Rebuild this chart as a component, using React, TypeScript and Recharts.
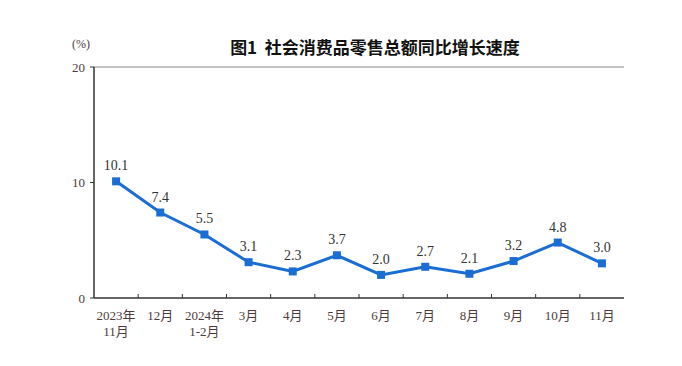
import { LineChart, Line, XAxis, YAxis, ReferenceLine, LabelList } from 'recharts';

const months = ['2023年\n11月', '12月', '2024年\n1-2月', '3月', '4月', '5月', '6月', '7月', '8月', '9月', '10月', '11月'];
const growth = [10.1, 7.4, 5.5, 3.1, 2.3, 3.7, 2.0, 2.7, 2.1, 3.2, 4.8, 3.0];
const yTicks = [0, 10, 20];

const data = months.map((m, i) => ({ month: m, value: growth[i] }));

const W = 682;
const H = 366;
const PLOT_LEFT = 94;
const PLOT_RIGHT = 58;
const BAND = (W - PLOT_LEFT - PLOT_RIGHT) / months.length;
const SERIF = '"Liberation Serif", "Noto Sans CJK SC", serif';
const LABEL_COLOR = '#4d3b3b';

function MonthTick(props: any) {
    const { x, y, payload, index } = props;
    const lines = String(payload.value).split('\n');
    const last = index === months.length - 1;
    return (
        <g>
            {!last && <line x1={x + BAND / 2} x2={x + BAND / 2} y1={y} y2={y - 4} stroke="#333" strokeWidth={1} />}
            {lines.map((l, i) => (
                <text key={i} x={x} y={y + 22 + i * 16} textAnchor="middle" fontSize={13} fill={LABEL_COLOR} fontFamily={SERIF}>
                    {l}
                </text>
            ))}
        </g>
    );
}

export default function App() {
    return (
        <div style={{ position: 'absolute', left: 0, top: 0, width: W, height: H, background: '#fff' }}>
            <div style={{ position: 'absolute', left: 72, top: 37, fontSize: 12, color: LABEL_COLOR, fontFamily: SERIF }}>(%)</div>
            <div
                style={{
                    position: 'absolute',
                    left: 0,
                    width: 750,
                    top: 34,
                    textAlign: 'center',
                    fontSize: 17,
                    fontWeight: 'bold',
                    color: '#111',
                    fontFamily: '"Noto Sans CJK SC", sans-serif',
                    whiteSpace: 'pre',
                }}
            >
                图1  社会消费品零售总额同比增长速度
            </div>
            <LineChart width={W} height={H} data={data} margin={{ top: 67, right: PLOT_RIGHT, bottom: 0, left: 0 }}>
                <XAxis
                    dataKey="month"
                    height={68}
                    interval={0}
                    padding={{ left: BAND / 2, right: BAND / 2 }}
                    tickSize={0}
                    tickMargin={0}
                    tick={<MonthTick />}
                    axisLine={{ stroke: '#333', strokeWidth: 1.5 }}
                />
                <YAxis
                    width={PLOT_LEFT}
                    domain={[0, 20]}
                    ticks={yTicks}
                    tickSize={4}
                    tickMargin={5}
                    tick={{ fontSize: 13, fill: LABEL_COLOR, fontFamily: SERIF }}
                    axisLine={{ stroke: '#333', strokeWidth: 1.5 }}
                    tickLine={{ stroke: '#333' }}
                />
                <YAxis yAxisId="right" orientation="right" width={0} tick={false} domain={[0, 20]} axisLine={{ stroke: '#888', strokeWidth: 1 }} />
                <ReferenceLine y={20} stroke="#888" strokeWidth={1} />
                <Line
                    type="linear"
                    dataKey="value"
                    stroke="#1a6dd2"
                    strokeWidth={3}
                    isAnimationActive={false}
                    dot={(p: any) => <rect key={p.index} x={p.cx - 4} y={p.cy - 4} width={8} height={8} fill="#1a6dd2" />}
                >
                    <LabelList dataKey="value" position="top" offset={11} fontSize={14} fill="#333" fontFamily={SERIF} formatter={(v: any) => Number(v).toFixed(1)} />
                </Line>
            </LineChart>
        </div>
    );
}
